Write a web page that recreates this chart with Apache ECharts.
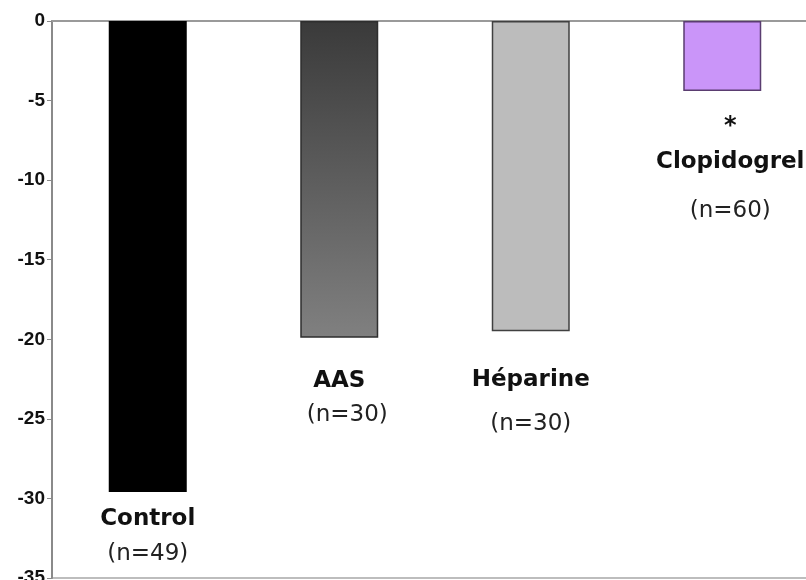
<!DOCTYPE html>
<html>
<head>
<meta charset="utf-8">
<script src="https://cdn.jsdelivr.net/npm/echarts@6/dist/echarts.min.js"></script>
<style>
  html, body { margin: 0; padding: 0; background: #ffffff; }
  #chart { width: 806px; height: 580px; }
</style>
</head>
<body>
<div id="chart"></div>
<script>
// Treatment groups and their mean change
const categories = ['Control', 'AAS', 'Héparine', 'Clopidogrel'];
const values = [-29.6, -19.9, -19.5, -4.4];
const sampleSizes = [49, 30, 30, 60];
const significance = ['', '', '', '*'];
const yTicks = { min: -35, max: 0, step: 5 };

const fills = [
  '#000000',
  { type: 'linear', x: 0, y: 0, x2: 0, y2: 1,
    colorStops: [{ offset: 0, color: '#3a3a3a' }, { offset: 1, color: '#808080' }] },
  '#bcbcbc',
  '#ca95f9'
];
const borders = ['#000000', '#2e2e2e', '#404040', '#5a3d70'];

// per-bar label layout: distance below bar end, line heights, horizontal shifts
const labelLayout = [
  { distance: 9,  lines: [35, 35], shift: 0, nPad: 0 },
  { distance: 26, lines: [34, 34], shift: 0, nPad: 16 },
  { distance: 27, lines: [44, 44], shift: 0, nPad: 0 },
  { distance: 14, lines: [38, 38, 60], shift: 8, nPad: 0 }
];

const FONT = '"DejaVu Sans", Verdana, sans-serif';

const data = values.map((v, i) => {
  const L = labelLayout[i];
  const hasStar = significance[i] !== '';
  const rich = {
    star: { fontFamily: FONT, fontWeight: 'bold', fontSize: 24, color: '#111', lineHeight: L.lines[0],
            padding: [6, 0, 0, 0] },
    name: { fontFamily: FONT, fontWeight: 'bold', fontSize: 23, color: '#111',
            lineHeight: hasStar ? L.lines[1] : L.lines[0] },
    n: { fontFamily: FONT, fontSize: 23, color: '#222',
         lineHeight: hasStar ? L.lines[2] : L.lines[1], padding: [0, 0, 0, L.nPad] }
  };
  const parts = [];
  if (hasStar) parts.push('{star|' + significance[i] + '}');
  parts.push('{name|' + categories[i] + '}');
  parts.push('{n|(n=' + sampleSizes[i] + ')}');
  return {
    value: v,
    itemStyle: { color: fills[i], borderColor: borders[i], borderWidth: 1.5 },
    label: {
      show: true,
      position: 'bottom',
      distance: L.distance,
      offset: [L.shift, 0],
      formatter: parts.join('\n'),
      rich: rich
    }
  };
});

const chart = echarts.init(document.getElementById('chart'), null, { renderer: 'canvas' });
chart.setOption({
  animation: false,
  backgroundColor: '#ffffff',
  grid: {
    left: 52, top: 21, width: 766, height: 557,
    containLabel: false,
    outerBoundsMode: 'none',
    show: true, borderColor: '#bdbdbd', borderWidth: 2, backgroundColor: 'transparent'
  },
  xAxis: {
    type: 'category',
    data: categories,
    axisLine: { show: true, onZero: true, lineStyle: { color: '#9a9a9a', width: 2 } },
    axisTick: { show: false },
    axisLabel: { show: false },
    splitLine: { show: false }
  },
  yAxis: {
    type: 'value',
    min: yTicks.min,
    max: yTicks.max,
    interval: yTicks.step,
    axisLine: { show: true, lineStyle: { color: '#8a8a8a', width: 2 } },
    axisTick: { show: true, length: 5, lineStyle: { color: '#8a8a8a', width: 1 } },
    axisLabel: {
      margin: 7,
      fontFamily: '"Liberation Sans", Arial, sans-serif',
      fontWeight: 'bold',
      fontSize: 19,
      color: '#111',
      hideOverlap: false
    },
    splitLine: { show: false }
  },
  series: [{
    type: 'bar',
    barWidth: 78,
    data: data
  }]
});
</script>
</body>
</html>
